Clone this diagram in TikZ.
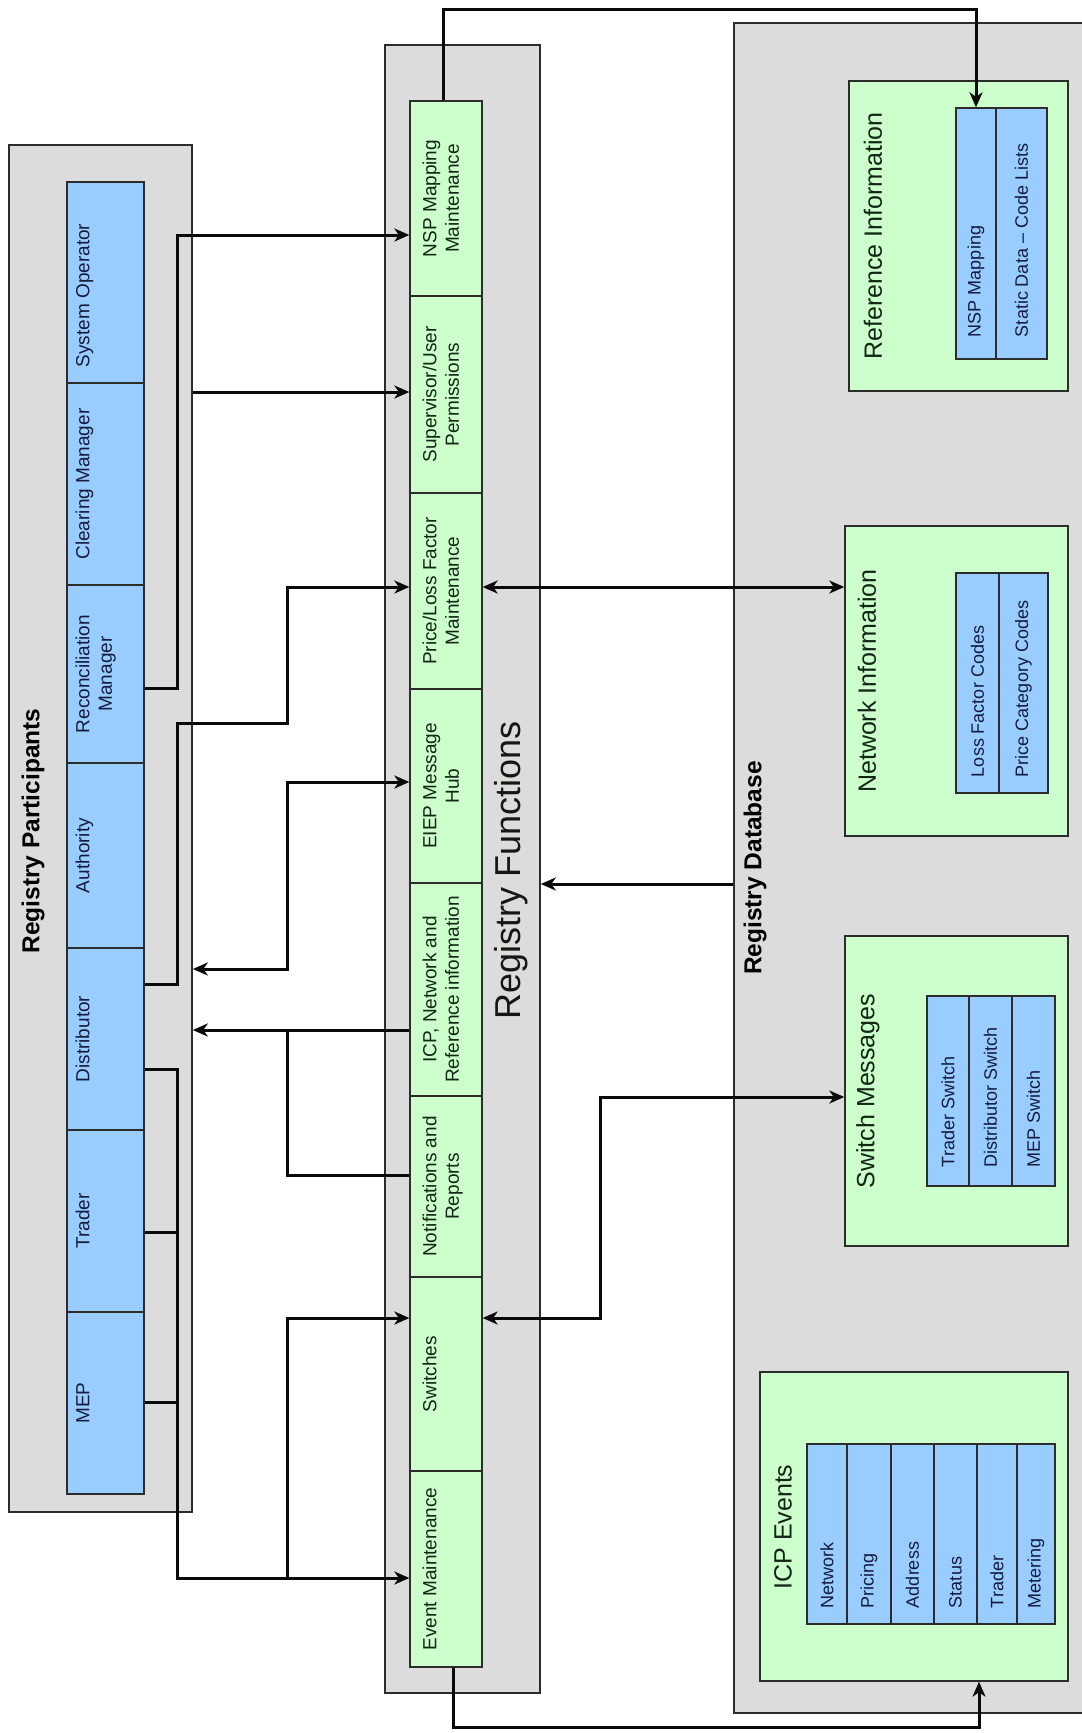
\documentclass[tikz,border=0pt]{standalone}
\usepackage{fontspec}
\setmainfont{Liberation Sans}
\usepackage{graphicx}
\usetikzlibrary{arrows.meta,calc}

\definecolor{panel}{HTML}{DCDCDC}
\definecolor{pblue}{HTML}{99CCFF}
\definecolor{pgreen}{HTML}{CCFFCC}
\definecolor{edgecol}{HTML}{2C2C2C}
\definecolor{navy}{HTML}{141C3E}
\definecolor{dgreen}{HTML}{122614}
\definecolor{linecol}{HTML}{0A0A0A}

% vertical (bottom-to-top) label, one or more lines
\newcommand{\vlab}[1]{\rotatebox{90}{\begin{tabular}{@{}c@{}}#1\end{tabular}}}
% vertical label filling a cell of length #1, starting #2 from its lower end
\newcommand{\celltxt}[3]{\rotatebox{90}{\makebox[#1][l]{\hspace*{#2}#3}}}
\newcommand{\lblfont}{\fontsize{19}{22.5}\selectfont}

\tikzset{
  panelbox/.style={draw=edgecol, fill=panel, line width=1.6pt, inner sep=0pt},
  partcell/.style={draw=edgecol, fill=pblue, line width=1.3pt, minimum width=77pt, inner sep=0pt},
  funccell/.style={draw=edgecol, fill=pgreen, line width=1.3pt, minimum width=72pt, inner sep=0pt},
  plabel/.style={anchor=west, inner sep=0pt, text=navy, font=\lblfont},
  flabel/.style={anchor=west, inner sep=0pt, text=dgreen, font=\lblfont},
  store/.style={draw=edgecol, fill=pgreen, line width=1.4pt, inner sep=0pt},
  storelabel/.style={inner sep=0pt, text=dgreen, font=\fontsize{25}{30}\selectfont},
  datacell/.style={draw=edgecol, fill=pblue, line width=1.3pt, inner sep=0pt, text=navy, font=\fontsize{18}{21}\selectfont},
  headtitle/.style={inner sep=0pt, text=black, font=\bfseries\fontsize{24.5}{29}\selectfont},
  wire/.style={draw=linecol, line width=3pt},
  conn/.style={wire, -{Stealth[length=15pt,width=13pt,inset=4.5pt]}},
  conntwo/.style={wire, {Stealth[length=15pt,width=13pt,inset=4.5pt]}-{Stealth[length=15pt,width=13pt,inset=4.5pt]}},
}

\begin{document}
\begin{tikzpicture}[x=1pt,y=-1pt]
\useasboundingbox (0,0) rectangle (1082,1733);
\clip (0,0) rectangle (1082,1733);
\fill[white] (0,0) rectangle (1082,1733);

% ---------- Registry Participants ----------
\node[panelbox, minimum width=183pt, minimum height=1367pt] (partbox) at (100.5,828.5) {};
\node[headtitle] (parttitle) at (33,831) {\rotatebox{90}{Registry Participants}};

\node[partcell, minimum height=201pt] (sysop)  at (105.5,282.5) {};
\node[partcell, minimum height=202pt] (clear)  at (105.5,484)   {};
\node[partcell, minimum height=178pt] (recon)  at (105.5,674)   {};
\node[partcell, minimum height=185pt] (auth)   at (105.5,855.5) {};
\node[partcell, minimum height=182pt] (dist)   at (105.5,1039)  {};
\node[partcell, minimum height=182pt] (trader) at (105.5,1221)  {};
\node[partcell, minimum height=182pt] (mep)    at (105.5,1403)  {};

\node[plabel] (lsysop)  at ([xshift=7pt]sysop.west)  {\vlab{System Operator\hspace*{26pt}}};
\node[plabel] (lclear)  at ([xshift=7pt]clear.west)  {\vlab{Clearing Manager}};
\node[plabel] (lrecon)  at ([xshift=7pt]recon.west)  {\vlab{Reconciliation\\Manager}};
\node[plabel] (lauth)   at ([xshift=7pt]auth.west)   {\vlab{Authority}};
\node[plabel] (ldist)   at ([xshift=7pt]dist.west)   {\vlab{Distributor}};
\node[plabel] (ltrader) at ([xshift=7pt]trader.west) {\vlab{Trader}};
\node[plabel] (lmep)    at ([xshift=7pt]mep.west)    {\vlab{MEP}};

% ---------- Registry Functions ----------
\node[panelbox, minimum width=155pt, minimum height=1648pt] (funcbox) at (462.5,869) {};
\node[inner sep=0pt, text={rgb,255:red,24;green,22;blue,20}, font=\fontsize{36}{43}\selectfont] (functitle) at (511,870) {\rotatebox{90}{Registry Functions}};

\node[funccell, minimum height=195pt] (nspm)     at (446,198.5)  {};
\node[funccell, minimum height=197pt] (perm)     at (446,394.5)  {};
\node[funccell, minimum height=196pt] (price)    at (446,591)    {};
\node[funccell, minimum height=194pt] (eiep)     at (446,786)    {};
\node[funccell, minimum height=213pt] (icpnet)   at (446,989.5)  {};
\node[funccell, minimum height=181pt] (notif)    at (446,1186.5) {};
\node[funccell, minimum height=194pt] (switches) at (446,1374)   {};
\node[funccell, minimum height=196pt] (evm)      at (446,1569)   {};

\node[flabel] (lnspm)     at ([xshift=11pt]nspm.west)     {\vlab{NSP Mapping\\Maintenance}};
\node[flabel] (lperm)     at ([xshift=11pt]perm.west)     {\vlab{Supervisor/User\\Permissions}};
\node[flabel] (lprice)    at ([xshift=11pt]price.west)    {\vlab{Price/Loss Factor\\Maintenance}};
\node[flabel] (leiep)     at ([xshift=11pt]eiep.west)     {\vlab{EIEP Message\\Hub}};
\node[flabel] (licpnet)   at ([xshift=11pt]icpnet.west)   {\vlab{ICP, Network and\\Reference information}};
\node[flabel] (lnotif)    at ([xshift=11pt]notif.west)    {\vlab{Notifications and\\Reports}};
\node[flabel] (lswitches) at ([xshift=11pt]switches.west) {\vlab{Switches}};
\node[flabel] (levm)      at ([xshift=11pt]evm.west)      {\vlab{Event Maintenance}};

% ---------- Registry Database ----------
\node[panelbox, minimum width=366pt, minimum height=1690pt] (dbbox) at (917,868) {};
\node[headtitle] (dbtitle) at (755,868) {\rotatebox{90}{Registry Database}};

% Reference Information
\node[store, minimum width=219pt, minimum height=310pt] (refinfo) at (958.5,236) {};
\node[storelabel] (lrefinfo) at (873,236) {\rotatebox{90}{Reference Information}};
\node[datacell, minimum width=40pt, minimum height=251pt] (nspmap)   at (976,233.5)    {\celltxt{251pt}{22pt}{NSP Mapping}};
\node[datacell, minimum width=51pt, minimum height=251pt] (statdata) at (1021.5,233.5) {\celltxt{251pt}{22pt}{Static Data \textendash{} Code Lists}};

% Network Information
\node[store, minimum width=223pt, minimum height=310pt] (netinfo) at (956.5,681) {};
\node[storelabel] (lnetinfo) at (867,681) {\rotatebox{90}{Network Information}};
\node[datacell, minimum width=43pt, minimum height=220pt] (lossf)    at (977.5,683)  {\celltxt{220pt}{16pt}{Loss Factor Codes}};
\node[datacell, minimum width=49pt, minimum height=220pt] (pricecat) at (1023.5,683) {\celltxt{220pt}{16pt}{Price Category Codes}};

% Switch Messages
\node[store, minimum width=223pt, minimum height=310pt] (swmsg) at (956.5,1091) {};
\node[storelabel] (lswmsg) at (868,1091) {\rotatebox{90}{Switch Messages}};
\node[datacell, minimum width=42pt, minimum height=190pt] (trsw)   at (948,1091)    {\celltxt{190pt}{19pt}{Trader Switch}};
\node[datacell, minimum width=43pt, minimum height=190pt] (distsw) at (990.5,1091)  {\celltxt{190pt}{19pt}{Distributor Switch}};
\node[datacell, minimum width=43pt, minimum height=190pt] (mepsw)  at (1033.5,1091) {\celltxt{190pt}{19pt}{MEP Switch}};

% ICP Events
\node[store, minimum width=308pt, minimum height=309pt] (icpev) at (914,1526.5) {};
\node[storelabel] (licpev) at (783,1527) {\rotatebox{90}{ICP Events}};
\node[datacell, minimum width=40pt, minimum height=180pt] (evnet)   at (827,1534)    {\celltxt{180pt}{16pt}{Network}};
\node[datacell, minimum width=44pt, minimum height=180pt] (evprice) at (869,1534)    {\celltxt{180pt}{16pt}{Pricing}};
\node[datacell, minimum width=43pt, minimum height=180pt] (evaddr)  at (912.5,1534)  {\celltxt{180pt}{16pt}{Address}};
\node[datacell, minimum width=43pt, minimum height=180pt] (evstat)  at (955.5,1534)  {\celltxt{180pt}{16pt}{Status}};
\node[datacell, minimum width=40pt, minimum height=180pt] (evtrad)  at (997,1534)    {\celltxt{180pt}{16pt}{Trader}};
\node[datacell, minimum width=38pt, minimum height=180pt] (evmeter) at (1036,1534)   {\celltxt{180pt}{16pt}{Metering}};

% ---------- routing rails and levels ----------
\coordinate (railL)   at (177,0);
\coordinate (railM)   at (287.5,0);
\coordinate (railS)   at (600,0);
\coordinate (xNspOut) at (443,0);
\coordinate (xEvOut)  at (453,0);
\coordinate (xIcpIn)  at (979,0);
\coordinate (topY)    at (0,9);
\coordinate (botY)    at (0,1727);
\coordinate (yNsp)    at (0,235);
\coordinate (yPerm)   at (0,392);
\coordinate (yPrice)  at (0,587);
\coordinate (yRecon)  at (0,688);
\coordinate (yPrA)    at (0,723);
\coordinate (yEiep)   at (0,782);
\coordinate (yDb)     at (0,884);
\coordinate (yEiepB)  at (0,969);
\coordinate (yDistA)  at (0,984);
\coordinate (yIcp)    at (0,1030);
\coordinate (yDistB)  at (0,1069);
\coordinate (ySm)     at (0,1097);
\coordinate (yNotif)  at (0,1175);
\coordinate (yTrader) at (0,1232);
\coordinate (ySw)     at (0,1318);
\coordinate (yMep)    at (0,1402);
\coordinate (yEvent)  at (0,1578);

% ---------- connectors ----------
% participants -> functions
\draw[conn] (recon.east |- yRecon) -| (railL |- yNsp) -- (nspm.west |- yNsp);
\draw[conn] (partbox.east |- yPerm) -- (perm.west |- yPerm);
\draw[conn] (dist.east |- yDistA) -| (railL |- yPrA) -| (railM |- yPrice) -- (price.west |- yPrice);
\draw[conntwo] (partbox.east |- yEiepB) -| (railM |- yEiep) -- (eiep.west |- yEiep);
\draw[conn] (icpnet.west |- yIcp) -- (partbox.east |- yIcp);
\draw[wire] (notif.west |- yNotif) -| (railM |- yIcp);
\draw[conn] (dist.east |- yDistB) -| (railL |- yEvent) -- (evm.west |- yEvent);
\draw[wire] (trader.east |- yTrader) -- (railL |- yTrader);
\draw[wire] (mep.east |- yMep) -- (railL |- yMep);
\draw[conn] (railM |- yEvent) |- (switches.west |- ySw);

% functions <-> database
\draw[conntwo] (price.east |- yPrice) -- (netinfo.west |- yPrice);
\draw[conn] (dbbox.west |- yDb) -- (funcbox.east |- yDb);
\draw[conntwo] (switches.east |- ySw) -| (railS |- ySm) -- (swmsg.west |- ySm);
\draw[conn] (nspm.north -| xNspOut) -- (xNspOut |- topY) -| (nspmap.north);
\draw[conn] (evm.south -| xEvOut) -- (xEvOut |- botY) -| (icpev.south -| xIcpIn);

\end{tikzpicture}
\end{document}
